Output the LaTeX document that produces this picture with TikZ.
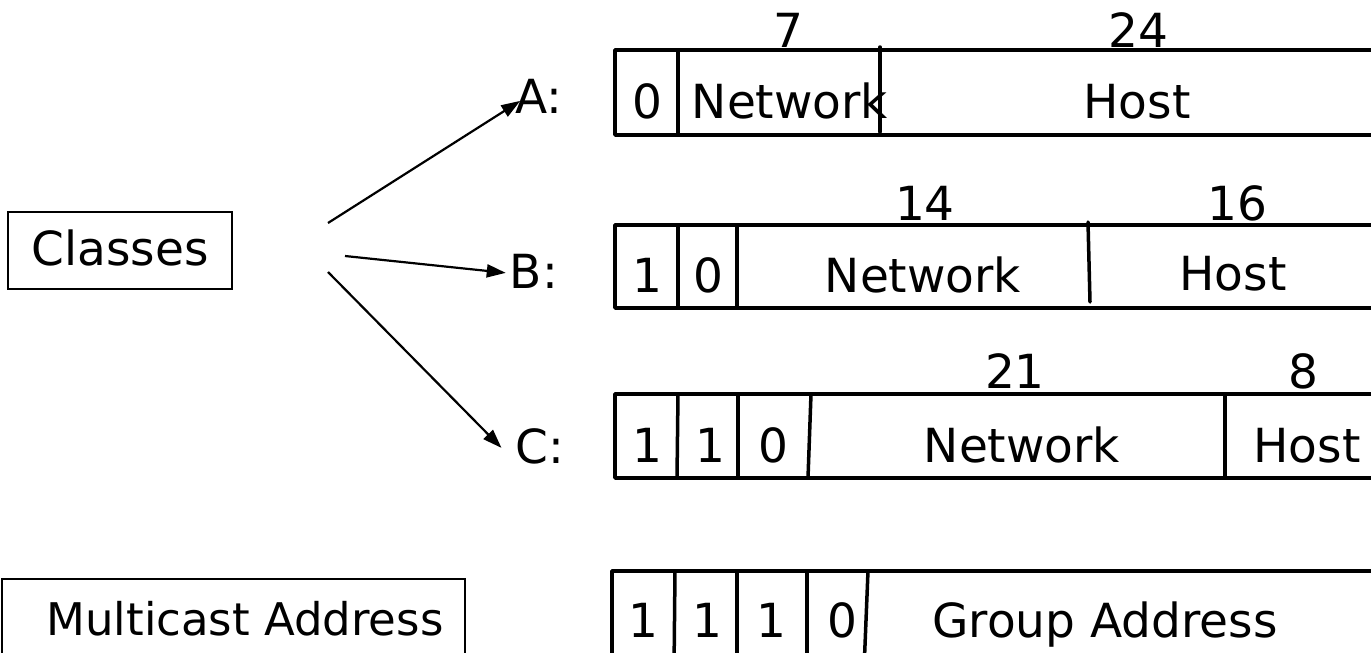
\documentclass[tikz,border=0pt]{standalone}
\usepackage{fontspec}
\setmainfont{DejaVu Sans}
\usetikzlibrary{arrows.meta}
\begin{document}
\begin{tikzpicture}[x=1pt,y=-1pt,
  txt/.style={font=\fontsize{47}{56}\selectfont, inner sep=0pt, anchor=base},
  field/.style={line width=3.5pt, line cap=round, line join=round},
  frame/.style={line width=2pt},
  conn/.style={line width=2.2pt, -{Triangle[length=19pt,width=13pt]}}]
\useasboundingbox (0,0) rectangle (1371,653);

% left-hand labels
\draw[frame] (8,212) rectangle (232,289);
\node[txt] (classes) at (120,265) {Classes};
\draw[frame] (2,579) rectangle (465,670);
\node[txt, font=\fontsize{45}{54}\selectfont] (mcast) at (245,635) {Multicast Address};

% class letters
\node[txt] (lA) at (539,113) {A:};
\node[txt] (lB) at (534,288) {B:};
\node[txt] (lC) at (540,463) {C:};

% arrows from the classes box
\coordinate (sA) at (328,223);
\coordinate (sB) at (345,256);
\coordinate (sC) at (328,272);
\draw[conn] (sA) -- ([shift={(5,5)}]lA.west);
\draw[conn] (sB) -- ([shift={(-4,2)}]lB.west);
\draw[conn] (sC) -- ([shift={(-14,2)}]lC.west);

% class A: 0 | network (7) | host (24)
\draw[field] (1371,50) -- (615,50) -- (615,135) -- (1371,135);
\draw[field] (678,50) -- (678,135);
\draw[field] (880,47) -- (880,132);
\node[txt] (a0) at (647,118) {0};
\node[txt] (anet) at (790,118) {Network};
\node[txt] (ahost) at (1137,118) {Host};
\node[txt] (a7) at (788,47) {7};
\node[txt] (a24) at (1138,47) {24};

% class B: 1 0 | network (14) | host (16)
\draw[field] (1371,225) -- (615,225) -- (615,308) -- (1371,308);
\draw[field] (678,225) -- (678,308);
\draw[field] (737,225) -- (737,308);
\draw[field] (1088,222) -- (1090,302);
\node[txt] (b1) at (647,292) {1};
\node[txt] (b0) at (708,292) {0};
\node[txt] (bnet) at (923,292) {Network};
\node[txt] (bhost) at (1233,290) {Host};
\node[txt] (b14) at (925,220) {14};
\node[txt] (b16) at (1237,220) {16};

% class C: 1 1 0 | network (21) | host (8)
\draw[field] (1371,394) -- (615,394) -- (615,478) -- (1371,478);
\draw[field] (678,394) -- (677,478);
\draw[field] (738,394) -- (738,478);
\draw[field] (811,394) -- (808,478);
\draw[field] (1225,394) -- (1225,478);
\node[txt] (c1) at (647,462) {1};
\node[txt] (c2) at (710,462) {1};
\node[txt] (c0) at (773,462) {0};
\node[txt] (cnet) at (1022,462) {Network};
\node[txt] (chost) at (1307,462) {Host};
\node[txt] (c21) at (1015,388) {21};
\node[txt] (c8) at (1303,388) {8};

% multicast: 1 1 1 0 | group address
\draw[field] (1371,571) -- (612,571) -- (612,670);
\draw[field] (675,571) -- (674,670);
\draw[field] (737,571) -- (737,670);
\draw[field] (807,571) -- (807,670);
\draw[field] (868,571) -- (864,670);
\node[txt] (m1) at (643,637) {1};
\node[txt] (m2) at (707,637) {1};
\node[txt] (m3) at (771,637) {1};
\node[txt] (m0) at (842,637) {0};
\node[txt] (grp) at (1105,637) {Group Address};
\end{tikzpicture}
\end{document}
